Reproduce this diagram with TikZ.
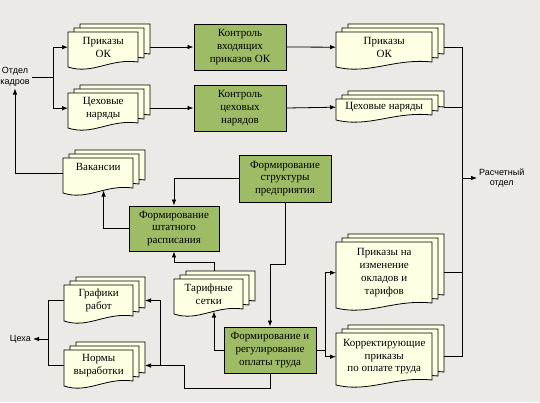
\documentclass[tikz,border=0pt]{standalone}
\usepackage{fontspec}
\setmainfont{Liberation Serif}
\newfontfamily\labelfont{Liberation Sans}
\usetikzlibrary{arrows.meta}
\definecolor{bggray}{RGB}{236,233,230}
\definecolor{boxgreen}{RGB}{158,187,101}
\definecolor{papercream}{RGB}{255,255,228}

% stack of three sheets: [node opts]{name}{x}{y}{width}{height}{text}
\newcommand{\docstack}[7][]{%
  \foreach \d in {2,1,0}{%
    \pgfmathsetmacro{\sx}{#3+6*\d}%
    \pgfmathsetmacro{\sy}{#4-4*\d}%
    \draw[sheet] (\sx,\sy) -- (\sx+#5,\sy) -- (\sx+#5,\sy+#6-5)
      .. controls (\sx+0.6*#5,\sy+#6-9) and (\sx+0.35*#5,\sy+#6+8) .. (\sx,\sy+#6) -- cycle;
  }
  \node[doctext, minimum width=#5, minimum height=#6-5, anchor=north west, #1] (#2) at (#3,#4) {#7};
  \coordinate (#2-r) at (#3+#5+12,#4+#6/2-2.5);
  \coordinate (#2-b) at (#3+0.58*#5,#4+#6-2.5);
  \coordinate (#2-t) at (#3+0.58*#5,#4-8);
}

\begin{document}
\begin{tikzpicture}[x=1pt,y=-1pt,
  sheet/.style={draw=black, fill=papercream, line width=0.8pt},
  doctext/.style={inner sep=1pt, align=center, font=\fontsize{11}{12.8}\selectfont},
  proc/.style={draw=black, fill=boxgreen, line width=0.9pt, align=center, inner sep=1pt,
    minimum width=92, minimum height=46, font=\fontsize{11}{12.8}\selectfont},
  lbl/.style={font=\labelfont\fontsize{9}{10.5}\selectfont, align=center, inner sep=2pt},
  link/.style={line width=0.8pt},
  arr/.style={link, -{Latex[length=6pt,width=4.5pt]}}]
\useasboundingbox (0,0) rectangle (540,402);
\fill[bggray] (0,0) rectangle (540,402);

% outside units
\node[lbl] (ok) at (15,77) {Отдел\\кадров};
\node[lbl, anchor=west] (rso) at (477,178) {Расчетный\\отдел};
\node[lbl, anchor=east] (ceh) at (33,339) {Цеха};

% documents
\docstack{pOK1}{68}{32}{70}{35}{Приказы\\ОК}
\docstack{cn1}{68}{93}{70}{35}{Цеховые\\наряды}
\docstack{pOK2}{336}{32}{96}{35}{Приказы\\ОК}
\docstack{cn2}{336}{99}{96}{21}{Цеховые наряды}
\docstack[text depth=12pt]{vak}{63}{158}{70}{35}{Вакансии}
\docstack{tar}{174}{279}{69}{35}{Тарифные\\сетки}
\docstack{gr}{64}{285}{69}{36}{Графики\\работ}
\docstack{nv}{64}{350}{69}{36}{Нормы\\выработки}
\docstack{piz}{336}{242}{96}{66}{Приказы на\\изменение\\окладов и\\тарифов}
\docstack{kor}{336}{333}{96}{52}{Корректирующие\\приказы\\по оплате труда}

% processes
\node[proc] (kvh) at (240,47) {Контроль\\входящих\\приказов ОК};
\node[proc] (kcn) at (240,108) {Контроль\\цеховых\\нарядов};
\node[proc, minimum height=47] (fsp) at (285,178.5) {Формирование\\структуры\\предприятия};
\node[proc, minimum width=90, minimum height=45] (fsr) at (174,228.5) {Формирование\\штатного\\расписания};
\node[proc] (for) at (270,350) {Формирование и\\регулирование\\оплаты труда};

% top rows
\coordinate (jl) at (53,77);
\draw[link] (ok.east) -- (jl);
\draw[arr] (jl) |- (pOK1.west);
\draw[arr] (jl) |- (cn1.west);
\draw[arr] (pOK1-r) -- (kvh.west);
\draw[arr] (cn1-r) -- (kcn.west);
\draw[arr] (kvh.east) -- (pOK2.west);
\draw[arr] (kcn.east) -- (cn2.west);

% right bus
\coordinate (bt) at (462,47);
\draw[link] (pOK2-r) -- (bt) |- (kor-r);
\draw[link] (cn2-r) -- (cn2-r -| bt);
\draw[link] (piz-r) -- (piz-r -| bt);
\draw[arr] (rso.west -| bt) -- (rso.west);

% middle
\draw[arr] (vak.west) -| (ok.south);
\draw[arr] (fsr.west) -| (vak-b);
\draw[arr] (fsp.west) -| (fsr.north);
\draw[arr] (fsp.south) -- ++(0,62) -| (for.north);
\draw[arr] (tar-t) -- ++(0,-9) -| (fsr.south);
\draw[arr] (for.west) -| (tar-b);
\draw[arr] (for.east) -- ++(9,0) |- (piz.west);
\draw[arr] (for.east) -- ++(9,0) |- (kor.west);

% bottom left
\coordinate (jb) at (160,0);
\draw[arr] (for.south) -- ++(0,15) -- ++(-86,0) |- (nv-r);
\draw[arr] (nv-r -| jb) |- (gr-r);
\draw[link] (gr.west) -- ++(-16,0) |- (nv.west);
\coordinate (jc) at (48,339);
\draw[arr] (jc) -- (ceh.east);
\end{tikzpicture}
\end{document}
